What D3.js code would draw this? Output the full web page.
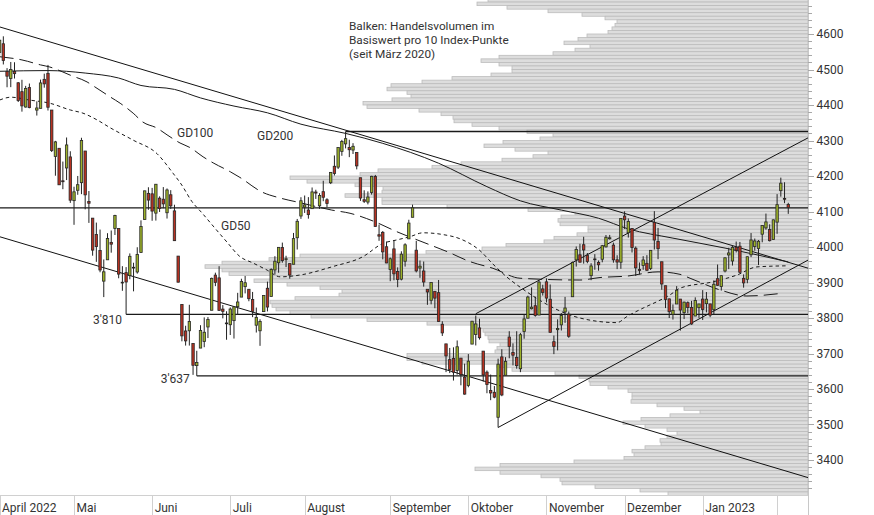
<!DOCTYPE html>
<html><head><meta charset="utf-8">
<script src="https://cdn.jsdelivr.net/npm/d3@7"></script>
<style>
body{margin:0;background:#fff}
svg{display:block}
text{font-family:Roboto,"Noto Sans",sans-serif;fill:#333}
</style></head>
<body><svg id="chart" width="874" height="515"></svg>
<script>
// ---------- DATA ----------
const dates = [
"2022-04-01","2022-04-04","2022-04-05","2022-04-06","2022-04-07","2022-04-08","2022-04-11","2022-04-12","2022-04-13","2022-04-14","2022-04-15","2022-04-18","2022-04-19","2022-04-20","2022-04-21","2022-04-22","2022-04-25","2022-04-26","2022-04-27","2022-04-28","2022-04-29",
"2022-05-02","2022-05-03","2022-05-04","2022-05-05","2022-05-06","2022-05-09","2022-05-10","2022-05-11","2022-05-12","2022-05-13","2022-05-16","2022-05-17","2022-05-18","2022-05-19","2022-05-20","2022-05-23","2022-05-24","2022-05-25","2022-05-26","2022-05-27","2022-05-31",
"2022-06-01","2022-06-02","2022-06-03","2022-06-06","2022-06-07","2022-06-08","2022-06-09","2022-06-10","2022-06-13","2022-06-14","2022-06-15","2022-06-16","2022-06-17","2022-06-21","2022-06-22","2022-06-23","2022-06-24","2022-06-27","2022-06-28","2022-06-29","2022-06-30",
"2022-07-01","2022-07-05","2022-07-06","2022-07-07","2022-07-08","2022-07-11","2022-07-12","2022-07-13","2022-07-14","2022-07-15","2022-07-18","2022-07-19","2022-07-20","2022-07-21","2022-07-22","2022-07-25","2022-07-26","2022-07-27","2022-07-28","2022-07-29",
"2022-08-01","2022-08-02","2022-08-03","2022-08-04","2022-08-05","2022-08-08","2022-08-09","2022-08-10","2022-08-11","2022-08-12","2022-08-15","2022-08-16","2022-08-17","2022-08-18","2022-08-19","2022-08-22","2022-08-23","2022-08-24","2022-08-25","2022-08-26","2022-08-29","2022-08-30","2022-08-31",
"2022-09-01","2022-09-02","2022-09-06","2022-09-07","2022-09-08","2022-09-09","2022-09-12","2022-09-13","2022-09-14","2022-09-15","2022-09-16","2022-09-19","2022-09-20","2022-09-21","2022-09-22","2022-09-23","2022-09-26","2022-09-27","2022-09-28","2022-09-29","2022-09-30",
"2022-10-03","2022-10-04","2022-10-05","2022-10-06","2022-10-07","2022-10-10","2022-10-11","2022-10-12","2022-10-13","2022-10-14","2022-10-17","2022-10-18","2022-10-19","2022-10-20","2022-10-21","2022-10-24","2022-10-25","2022-10-26","2022-10-27","2022-10-28","2022-10-31",
"2022-11-01","2022-11-02","2022-11-03","2022-11-04","2022-11-07","2022-11-08","2022-11-09","2022-11-10","2022-11-11","2022-11-14","2022-11-15","2022-11-16","2022-11-17","2022-11-18","2022-11-21","2022-11-22","2022-11-23","2022-11-25","2022-11-28","2022-11-29","2022-11-30",
"2022-12-01","2022-12-02","2022-12-05","2022-12-06","2022-12-07","2022-12-08","2022-12-09","2022-12-12","2022-12-13","2022-12-14","2022-12-15","2022-12-16","2022-12-19","2022-12-20","2022-12-21","2022-12-22","2022-12-23","2022-12-27","2022-12-28","2022-12-29","2022-12-30",
"2023-01-03","2023-01-04","2023-01-05","2023-01-06","2023-01-09","2023-01-10","2023-01-11","2023-01-12","2023-01-13","2023-01-17","2023-01-18","2023-01-19","2023-01-20","2023-01-23","2023-01-24","2023-01-25","2023-01-26","2023-01-27","2023-01-30","2023-01-31",
"2023-02-01","2023-02-02","2023-02-03","2023-02-06"];

const open = [
4540.3,4547.97,4572.5,4494.2,4474.7,4494.2,4462.6,4437.6,4394.3,4449.1,null,4385.6,4390.6,4472.3,4489.2,4385.8,4255.3,4278.1,4186.5,4222.6,4253.8,
4130.6,4159.8,4181.2,4270.4,4128.2,4081.3,4035.2,3990.1,3903.9,3963.9,4013.0,4052.0,4052.0,3899.0,3927.8,3919.4,3942.9,3929.6,3984.6,4077.4,4151.1,
4149.8,4095.4,4137.6,4134.7,4096.5,4147.1,4101.7,3974.4,3838.2,3763.5,3764.0,3728.2,3665.9,3715.3,3733.9,3774.7,3821.8,3920.8,3913.0,3825.1,3786.0,
3781.0,3792.6,3832.0,3858.9,3888.3,3880.9,3852.0,3779.7,3764.0,3818.0,3883.8,3860.7,3935.3,3955.5,3998.4,3965.7,3953.2,3951.4,4026.1,4087.3,
4112.4,4104.2,4108.0,4154.9,4115.9,4155.9,4133.1,4181.0,4227.4,4225.0,4269.4,4290.5,4280.4,4273.1,4266.3,4195.1,4133.1,4126.6,4153.3,4198.7,4034.6,4041.3,4000.7,
3936.7,3994.7,3930.9,3909.4,3959.9,4022.9,4083.7,3991.0,3940.7,3932.4,3881.0,3849.9,3875.2,3871.4,3782.4,3727.1,3682.7,3686.4,3651.9,3687.0,3633.5,
3609.8,3726.5,3753.3,3772.0,3706.7,3647.5,3595.9,3590.8,3520.4,3690.4,3638.7,3746.3,3703.1,3689.1,3657.1,3762.0,3799.4,3826.0,3834.7,3808.3,3881.9,
3901.8,3852.9,3733.3,3767.0,3780.7,3817.0,3810.9,3859.9,3963.7,3978.0,4006.4,3976.8,3919.3,3966.4,3956.2,3965.5,4000.3,4023.3,4005.4,3964.0,3957.2,
4087.1,4040.2,4052.0,3996.6,3937.0,3947.8,3954.2,3939.3,4069.4,4015.5,3958.4,3890.9,3853.8,3810.5,3839.5,3853.3,3815.1,3843.3,3829.6,3805.5,3829.1,
3853.3,3840.4,3839.7,3823.4,3910.8,3888.6,3932.4,3977.6,3960.6,3999.3,4002.3,3911.8,3909.0,3978.1,4001.7,3996.0,4036.1,4053.7,4049.3,4020.9,
4070.1,4158.7,4136.7,4119.6];

const high = [
4549.0,4583.5,4593.5,4503.9,4521.2,4520.4,4464.4,4471.0,4453.9,4460.5,null,4410.3,4471.5,4488.3,4512.9,4385.8,4299.0,4278.1,4240.7,4308.5,4269.7,
4169.8,4200.1,4307.7,4270.4,4157.7,4081.3,4068.8,4049.1,3964.8,4038.9,4046.5,4090.7,4052.0,3946.0,3943.4,3981.9,3955.7,3999.3,4075.1,4158.5,4168.3,
4166.5,4177.5,4142.7,4168.8,4164.9,4160.1,4119.1,3974.4,3838.2,3778.2,3837.2,3728.2,3707.7,3779.7,3801.8,3802.6,3913.7,3927.7,3945.9,3836.5,3819.0,
3829.8,3832.2,3870.9,3910.6,3918.5,3880.9,3873.4,3829.4,3796.4,3863.6,3902.4,3939.8,3974.1,3999.3,4012.4,3975.3,3953.2,4039.6,4079.0,4140.2,
4145.0,4140.5,4167.7,4161.3,4151.6,4186.6,4137.3,4211.0,4257.9,4280.5,4301.8,4325.3,4302.2,4292.5,4266.3,4195.1,4159.8,4156.6,4200.5,4203.0,4063.0,4045.0,4015.4,
3970.2,4018.4,3942.6,3987.9,4010.5,4076.8,4119.3,4017.2,3961.9,3959.1,3881.0,3900.5,3876.0,3907.1,3790.8,3727.1,3715.7,3717.5,3736.7,3687.0,3671.4,
3698.4,3791.9,3806.9,3797.9,3706.7,3652.2,3640.7,3608.3,3685.4,3712.0,3689.7,3762.8,3728.6,3762.8,3757.9,3810.7,3862.9,3886.2,3860.0,3905.4,3893.7,
3911.8,3894.4,3750.6,3796.3,3814.0,3859.4,3818.2,3959.0,4001.5,4009.0,4028.8,3983.1,3954.3,3979.9,3962.0,4005.9,4033.8,4034.0,4012.3,3976.8,4080.1,
4100.5,4080.5,4052.5,4001.5,3956.4,3974.2,3977.0,3990.7,4101.0,4053.8,3958.4,3890.9,3854.9,3838.2,3889.8,3853.3,3845.8,3846.7,3848.3,3858.2,3839.9,
3878.5,3873.2,3839.7,3906.2,3950.6,3919.8,3970.1,3997.8,4004.0,4015.4,4014.2,3922.9,3973.0,4039.3,4023.9,4019.6,4061.6,4094.2,4063.9,4077.2,
4149.0,4195.4,4182.4,4124.6];

const low = [
4517.7,4539.2,4514.2,4450.0,4450.3,4474.6,4408.4,4381.3,4392.7,4390.8,null,4370.3,4390.6,4448.8,4384.5,4267.6,4200.8,4175.0,4162.9,4188.6,4124.3,
4062.5,4147.1,4148.9,4106.0,4067.9,3975.5,3958.2,3928.8,3858.9,3963.9,3984.0,4033.9,3911.9,3876.6,3810.3,3909.0,3875.1,3925.0,3984.6,4077.4,4104.9,
4073.9,4074.4,4098.7,4109.2,4080.2,4107.2,4017.2,3900.2,3734.3,3722.3,3722.3,3639.8,3636.9,3715.3,3717.7,3743.5,3821.8,3889.7,3820.1,3799.0,3738.7,
3752.1,3742.1,3809.4,3858.9,3869.3,3847.2,3802.4,3759.1,3721.6,3817.2,3818.6,3860.7,3922.0,3927.6,3955.8,3943.5,3910.7,3951.4,3993.0,4079.2,
4096.0,4079.8,4108.0,4135.4,4107.3,4129.0,4112.1,4177.3,4201.4,4219.8,4256.9,4277.8,4253.1,4262.0,4218.7,4129.9,4124.0,4120.0,4147.6,4057.7,4017.4,3965.2,3954.5,
3903.7,3906.2,3886.8,3906.0,3944.8,4022.9,4083.7,3928.5,3913.2,3888.3,3837.1,3838.5,3827.5,3789.5,3749.4,3647.5,3644.8,3623.8,3640.6,3610.4,3584.1,
3604.9,3726.5,3722.7,3739.2,3620.7,3588.1,3568.5,3573.9,3491.6,3579.7,3638.7,3686.5,3666.5,3657.2,3647.4,3741.7,3799.4,3824.1,3803.8,3808.3,3863.2,
3843.8,3758.7,3698.2,3708.8,3764.7,3786.3,3744.2,3859.9,3944.8,3956.4,3953.2,3954.3,3906.5,3936.0,3933.3,3956.9,3998.7,4020.8,3955.8,3937.7,3938.6,
4050.9,4026.6,3984.5,3918.4,3922.7,3935.8,3933.0,3935.3,3993.0,3965.7,3879.5,3827.9,3800.0,3795.6,3839.5,3764.5,3797.0,3813.2,3780.8,3805.5,3800.3,
3794.3,3815.8,3802.4,3809.6,3890.4,3877.3,3928.5,3937.6,3947.7,3984.6,3926.6,3885.5,3897.9,3971.6,3989.8,3949.1,4013.3,4048.7,4015.6,4020.4,
4037.2,4141.9,4123.4,4093.4];

const close = [
4545.9,4582.6,4525.1,4481.2,4500.2,4488.3,4412.5,4397.5,4446.6,4392.6,null,4391.7,4462.2,4459.5,4393.7,4271.8,4296.1,4175.2,4183.9,4287.5,4131.9,
4155.4,4175.5,4300.2,4146.9,4123.3,3991.2,4001.1,3935.2,3930.1,4023.9,4008.0,4088.9,3923.7,3900.8,3901.4,3973.8,3941.5,3978.7,4057.8,4158.2,4132.2,
4101.2,4176.8,4108.5,4121.4,4160.7,4115.8,4017.8,3900.9,3749.6,3735.5,3790.0,3666.8,3674.8,3764.8,3759.9,3795.7,3911.7,3900.1,3821.6,3818.8,3785.4,
3825.3,3831.4,3845.1,3902.6,3899.4,3854.4,3818.8,3801.8,3790.4,3863.2,3830.9,3936.7,3959.9,3999.0,3961.6,3966.8,3921.1,4023.6,4072.4,4130.3,
4118.6,4091.2,4155.2,4151.9,4145.2,4140.1,4122.5,4210.2,4207.3,4280.2,4297.1,4305.2,4274.0,4283.7,4228.5,4138.0,4128.7,4140.8,4199.1,4057.7,4030.6,3986.2,3955.0,
3966.9,3924.3,3908.2,3979.9,4006.2,4067.4,4110.4,3932.7,3946.0,3901.4,3873.3,3899.9,3855.9,3789.9,3758.0,3693.2,3655.0,3647.3,3719.0,3640.5,3585.6,
3678.4,3790.9,3783.3,3744.5,3639.7,3612.4,3588.8,3577.0,3669.9,3583.1,3678.0,3720.0,3695.2,3665.8,3752.8,3797.3,3859.1,3830.6,3807.3,3901.1,3872.0,
3856.1,3759.7,3719.9,3770.6,3806.8,3828.1,3748.6,3956.4,3992.9,3957.3,3991.7,3959.0,3946.6,3965.3,3949.9,4003.6,4027.3,4026.1,3963.9,3957.6,4080.1,
4076.6,4071.7,3998.8,3941.3,3933.9,3963.5,3934.4,3990.6,4019.7,3995.3,3895.8,3852.4,3817.7,3821.6,3878.4,3822.4,3844.8,3829.3,3783.2,3849.3,3839.5,
3824.1,3853.0,3808.1,3895.1,3892.1,3919.3,3969.6,3983.2,3999.1,3991.0,3928.9,3898.9,3972.6,4019.8,4017.0,4016.2,4060.4,4070.6,4017.8,4076.6,
4119.2,4179.8,4136.5,4111.1];

// moving averages: [trading-slot, value]
const gd50Slots  = [1,4,9,14.5,20,23.4,27.2,30.7,36.9,43.3,47.6,50,52.7,55.4,58.4,62.1,65.6,69.1,72.9,76.4,81.7,90.6,98.7,104,107.8,111.3,114.8,120.2,124.8,130.1,133.6,137.4,140.9,157,167,169.6,174,177.7,181.2,183.9,192.8,199.2,204.6,212.7];
const gd50Values = [4414,4422,4414,4405,4386,4377,4358,4336,4301,4263,4208,4174,4128,4096,4059,4014,3973,3955,3935,3916,3921,3945,3973,4010,4020,4029,4040,4035,4023,3990,3952,3915,3887,3800,3787,3804,3828,3846,3865,3884,3902,3921,3944,3947];
const gd100Slots  = [1,7,12,14.5,18,20,24.5,26.6,30.7,33.4,36.9,39.5,43.3,46,49.5,52.2,55.7,58.4,63,65.6,71.5,76.4,81.7,90.3,95.2,101.9,107.8,116.7,121.3,127.4,133.6,140.9,157,162.4,169.6,178,183.9,186.6,194.7,201.9,211.6];
const gd100Values = [4536,4527,4513,4507,4493,4484,4465,4451,4423,4405,4377,4352,4335,4316,4293,4280,4254,4237,4212,4196,4155,4138,4125,4104,4095,4071,4043,4006,3987,3959,3940,3912,3907,3914,3918,3930,3923,3912,3879,3862,3870];
const gd200Slots  = [1,14,24,33,39,48,55,64,73,82,94,104,119,132,141,152,162,170,182,196,205,213];
const gd200Values = [4495,4497,4490,4476,4455,4444,4420,4397,4378,4346,4320,4292,4236,4170,4130,4104,4081,4051,4025,3997,3977,3958];

// trend lines: two anchors [date, value], start date, extended to the right edge
const trendAnchors = [
  {a:["2022-04-04",4620],  b:["2023-02-06",3957], from:"2022-04-01"},
  {a:["2022-04-04",4029],  b:["2023-02-06",3367], from:"2022-04-01"},
  {a:["2022-10-05",3812],  b:["2023-02-06",4278], from:"2022-10-05"},
  {a:["2022-10-13",3491.6],b:["2023-02-06",3933], from:"2022-10-13"}
];
// horizontal levels [value, start date]
const levels = [
  [4325.3,"2022-08-16"],
  [4110.4,null],
  [3810.3,"2022-05-20"],
  [3636.9,"2022-06-17"]
];

// volume profile: volume per 10-point bin, from the bin 4690-4700 downward
const profileTop = 4690;
const profileVolume = [
320,331,301,260,226,203,191,193,196,200,221,230,244,218,233,255,309,327,309,296,
296,317,356,386,417,421,401,397,416,445,441,389,367,355,354,336,309,281,255,268,
305,324,293,260,275,306,347,376,430,448,518,501,453,425,426,463,426,426,361,280,
233,247,250,248,220,220,231,254,264,302,326,382,508,539,586,603,586,579,535,554,
521,488,466,469,513,538,536,532,518,497,441,381,330,325,323,320,319,308,311,313,
401,401,386,311,296,253,229,219,218,200,180,176,176,177,151,124,108,138,167,185,
163,141,131,141,148,147,163,176,174,184,234,308,333,308,267,248,246,213,168,140];

const monthLabels = ["April 2022","Mai","Juni","Juli","August","September","Oktober","November","Dezember","Jan 2023",""];
const monthStarts = ["2022-04-01","2022-05-02","2022-06-01","2022-07-01","2022-08-01","2022-09-01","2022-10-03","2022-11-01","2022-12-01","2023-01-03","2023-02-01"];
const yTickMajor = d3.range(3400, 4601, 100);
const yTickMinor = d3.range(3320, 4700, 20);
const noteLines = ["Balken: Handelsvolumen im","Basiswert pro 10 Index-Punkte","(seit März 2020)"];

// ---------- CHART ----------
const svg = d3.select("#chart");
const PR = 808, PB = 495;
const x = d3.scaleBand().domain(dates).range([-5.96, 790.12]).padding(0);
const cx = d => x(d) + x.bandwidth()/2;
const slotX = d3.scaleLinear().domain([0, dates.length-1]).range([cx(dates[0]), cx(dates[dates.length-1])]);
const y = d3.scaleLinear().domain([3301.4, 4695.8]).range([PB, 0]);
const vol = d3.scaleLinear().domain([0, 600]).range([0, 600]);

if (dates.length!==open.length||open.length!==high.length||high.length!==low.length||low.length!==close.length){
  svg.append("text").attr("x",300).attr("y",250).style("fill","red").text("LEN "+[dates.length,open.length,high.length,low.length,close.length].join(","));
}

svg.append("defs").append("clipPath").attr("id","plot").append("rect").attr("x",0).attr("y",0).attr("width",PR).attr("height",PB);
const g = svg.append("g").attr("clip-path","url(#plot)");

// volume profile
g.append("g").selectAll("rect").data(profileVolume).join("rect")
  .attr("x", v => PR - vol(v))
  .attr("width", v => vol(v))
  .attr("y", (v,i) => y(profileTop - 10*i + 10))
  .attr("height", (v,i) => y(profileTop - 10*i) - y(profileTop - 10*i + 10))
  .attr("fill","#dddddd").attr("stroke","#bcbcbc").attr("stroke-width",0.8);

// note text
svg.append("g").selectAll("text").data(noteLines).join("text")
  .attr("x",349).attr("y",(d,i)=>29.5+i*14).style("font-size","11.8px").text(d=>d);

// horizontal levels
levels.forEach(([v,start])=>{
  const x0 = start ? cx(start) : 0;
  g.append("line").attr("x1",x0).attr("x2",PR).attr("y1",y(v)).attr("y2",y(v))
    .attr("stroke","#1a1a1a").attr("stroke-width",1.3);
});
svg.append("text").attr("x",cx("2022-05-20")-4).attr("y",y(3810.3)+9.5).attr("text-anchor","end").style("font-size","12px").text("3'810");
svg.append("text").attr("x",cx("2022-06-17")-7).attr("y",y(3636.9)+7.5).attr("text-anchor","end").style("font-size","12px").text("3'637");

// trend lines
trendAnchors.forEach(t=>{
  const xa = cx(t.a[0]), xb = cx(t.b[0]);
  const ya = y(t.a[1]), yb = y(t.b[1]);
  const slope = (yb-ya)/(xb-xa);
  const x0 = t.from==="2022-04-01" ? 0 : xa;
  const x1 = PR;
  g.append("line").attr("x1",x0).attr("y1",ya+slope*(x0-xa)).attr("x2",x1).attr("y2",ya+slope*(x1-xa))
    .attr("stroke","#111").attr("stroke-width",1);
});

// moving averages
const maLine = d3.line().x(d=>slotX(d[0])).y(d=>y(d[1])).curve(d3.curveMonotoneX);
[[gd200Slots,gd200Values,null],[gd100Slots,gd100Values,"14,6"],[gd50Slots,gd50Values,"3.5,3"]].forEach(([s,v,dash])=>{
  g.append("path").attr("d",maLine(s.map((k,i)=>[k,v[i]]))).attr("fill","none")
   .attr("stroke","#1a1a1a").attr("stroke-width",1).attr("stroke-dasharray",dash);
});
svg.append("text").attr("x",177).attr("y",137).style("font-size","12px").text("GD100");
svg.append("text").attr("x",257).attr("y",140).style("font-size","12px").text("GD200");
svg.append("text").attr("x",221).attr("y",230).style("font-size","12px").text("GD50");

// candles
const idx = d3.range(dates.length).filter(i=>open[i]!==null);
const cg = g.append("g");
cg.selectAll("line").data(idx).join("line")
  .attr("x1",i=>cx(dates[i])).attr("x2",i=>cx(dates[i]))
  .attr("y1",i=>y(high[i])).attr("y2",i=>y(low[i]))
  .attr("stroke","#222").attr("stroke-width",1);
cg.selectAll("rect").data(idx).join("rect")
  .attr("x",i=>cx(dates[i])-1.2).attr("width",2.4)
  .attr("y",i=>y(Math.max(open[i],close[i])))
  .attr("height",i=>Math.max(0.8, Math.abs(y(open[i])-y(close[i]))))
  .attr("fill",i=>close[i]>=open[i]?"#9db22a":"#b83222")
  .attr("stroke","#262626").attr("stroke-width",0.8);

// right axis
const ax = svg.append("g");
ax.append("line").attr("x1",PR+0.5).attr("x2",PR+0.5).attr("y1",0).attr("y2",515).attr("stroke","#c8c8c8");
ax.selectAll("line.mi").data(yTickMinor).join("line").attr("class","mi")
  .attr("x1",PR).attr("x2",d=>PR+(d%100===0?6:4)).attr("y1",d=>Math.round(y(d))+0.5).attr("y2",d=>Math.round(y(d))+0.5)
  .attr("stroke","#a8a8a8");
ax.selectAll("text").data(yTickMajor).join("text")
  .attr("x",816.5).attr("y",d=>y(d)).attr("dy","0.35em").style("font-size","12px").text(d=>d);

// bottom axis
const bx = svg.append("g");
bx.append("line").attr("x1",0).attr("x2",PR).attr("y1",PB+0.5).attr("y2",PB+0.5).attr("stroke","#d0d0d0");
bx.selectAll("line.t").data(monthStarts).join("line").attr("class","t")
  .attr("x1",d=>Math.round(Math.max(0,cx(d)))+0.5).attr("x2",d=>Math.round(Math.max(0,cx(d)))+0.5)
  .attr("y1",PB).attr("y2",515).attr("stroke","#d0d0d0");
bx.selectAll("text").data(monthStarts).join("text")
  .attr("x",d=>Math.max(2,cx(d)+2.5)).attr("y",512).style("font-size","12px").text((d,i)=>monthLabels[i]);
</script></body></html>
